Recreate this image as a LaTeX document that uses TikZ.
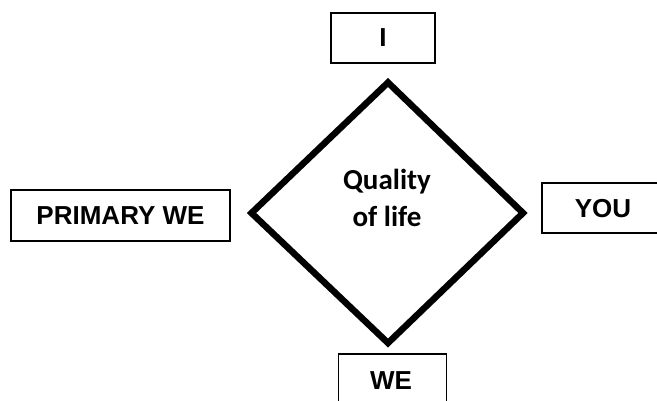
\documentclass[tikz,border=0pt]{standalone}
\usepackage{fontspec}
\setmainfont{Liberation Sans}
\newfontfamily\calfont{Carlito}
\begin{document}
\begin{tikzpicture}[x=1pt,y=-1pt,
  boxnode/.style={draw=black, line width=1.3pt, rectangle, inner sep=0pt},
  boxtext/.style={font=\fontsize{26}{31}\selectfont\bfseries, inner sep=0pt},
  centertext/.style={font=\calfont\fontsize{29}{37}\selectfont\bfseries, align=center, inner sep=0pt}]
\useasboundingbox (0,0) rectangle (657,400);
\fill[white] (0,0) rectangle (657,400);
% boxes
\node[boxnode, minimum width=104pt, minimum height=50pt, boxtext] (i) at (383,38) {I};
\node[boxnode, minimum width=219pt, minimum height=51pt, boxtext] (pw) at (120.5,215.5) {PRIMARY WE};
\node[boxnode, minimum width=124pt, minimum height=50pt] (you) at (604,208) {};
\node[boxtext, anchor=base] (yout) at (603,217) {YOU};
\node[boxnode, minimum width=108pt, minimum height=60pt] (we) at (392.5,384) {};
\node[boxtext, anchor=base] (wet) at (391,389) {WE};
% diamond
\coordinate (dt) at (388,82.5);
\coordinate (dr) at (523,213);
\coordinate (db) at (388,343);
\coordinate (dl) at (251.5,213);
\draw[line width=6.5pt, line join=miter] (dt) -- (dr) -- (db) -- (dl) -- cycle;
\node[centertext] (q) at (387,198) {Quality\\of life};
\end{tikzpicture}
\end{document}
